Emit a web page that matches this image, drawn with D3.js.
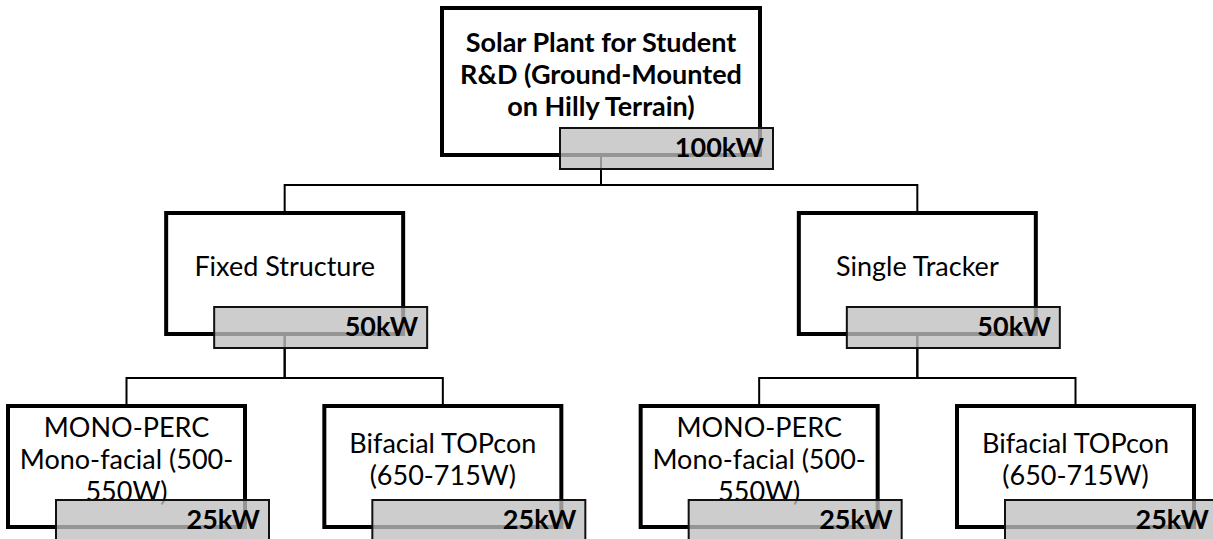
<!DOCTYPE html>
<html lang="en">
<head>
  <meta charset="utf-8" />
  <title>Solar Plant Breakdown</title>
  <script src="https://cdn.jsdelivr.net/npm/d3@7"></script>
  <style>
    body { margin: 0; background: white; }
    text { font-family: Lato, "Noto Sans", sans-serif; fill: #000; }
  </style>
</head>
<body>
<script>

// node data
var nodeIds = ["root", "fixed", "tracker", "fixMono", "fixBifa", "trkMono", "trkBifa"];
var parentIds = [null, "root", "root", "fixed", "fixed", "tracker", "tracker"];
var nodeLines = [
  ["Solar Plant for Student", "R&D (Ground-Mounted", "on Hilly Terrain)"],
  ["Fixed Structure"],
  ["Single Tracker"],
  ["MONO-PERC", "Mono-facial (500-", "550W)"],
  ["Bifacial TOPcon", "(650-715W)"],
  ["MONO-PERC", "Mono-facial (500-", "550W)"],
  ["Bifacial TOPcon", "(650-715W)"]
];
var capacityKW = [100, 50, 50, 25, 25, 25, 25];

var w = 1213;
var h = 539;

// sizes per depth
var boxW = [318, 237, 237];
var boxH = [147, 121, 121];
var tagW = 213, tagH = 41;
var tagOut = [13, 24, 24];   // how far the tag sticks out right of the box
var busGap = 28;
var fs = 27, lh = 32;

var table = nodeIds.map(function(id, i) {
  return {id: id, parent: parentIds[i], lines: nodeLines[i], kw: capacityKW[i]};
});
var root = d3.stratify()
             .id(function(d) { return d.id; })
             .parentId(function(d) { return d.parent; })(table);

d3.tree().nodeSize([1, 1]).separation(function() { return 1; })(root);

var leafX = d3.extent(root.leaves(), function(d) { return d.x; });
var xScale = d3.scaleLinear()
               .domain(leafX)
               .range([126.5, 1075.5]);
var topScale = d3.scaleOrdinal()
                 .domain([0, 1, 2])
                 .range([8, 213, 406]);

var svg = d3.select("body")
            .append("svg")
            .attr("width", w)
            .attr("height", h);

// connectors
svg.append("g")
   .selectAll("path")
   .data(root.links())
   .enter()
   .append("path")
   .attr("fill", "none")
   .attr("stroke", "#000")
   .attr("stroke-width", 2)
   .attr("d", function(l) {
     var px = xScale(l.source.x), cx = xScale(l.target.x);
     var py = topScale(l.source.depth) + boxH[l.source.depth];
     var cy = topScale(l.target.depth);
     var by = cy - busGap;
     return "M" + px + "," + py + "V" + by + "H" + cx + "V" + cy;
   });

var nodes = svg.append("g")
               .selectAll("g")
               .data(root.descendants())
               .enter()
               .append("g");

nodes.append("rect")
     .attr("x", function(d) { return xScale(d.x) - boxW[d.depth] / 2; })
     .attr("y", function(d) { return topScale(d.depth); })
     .attr("width", function(d) { return boxW[d.depth]; })
     .attr("height", function(d) { return boxH[d.depth]; })
     .attr("fill", "white")
     .attr("stroke", "#000")
     .attr("stroke-width", 4);

nodes.each(function(d) {
  var g = d3.select(this);
  var n = d.data.lines.length;
  var mid = topScale(d.depth) + boxH[d.depth] / 2 - 7;
  g.selectAll("text.name")
   .data(d.data.lines)
   .enter()
   .append("text")
   .attr("class", "name")
   .attr("x", xScale(d.x))
   .attr("y", function(t, i) { return mid + (i - (n - 1) / 2) * lh + fs * 0.35; })
   .attr("text-anchor", "middle")
   .attr("font-size", fs)
   .attr("font-weight", d.depth === 0 ? "bold" : "normal")
   .text(function(t) { return t; });
});

// capacity tags, drawn last and see-through
nodes.append("rect")
     .attr("x", function(d) { return xScale(d.x) + boxW[d.depth] / 2 + tagOut[d.depth] - tagW; })
     .attr("y", function(d) { return topScale(d.depth) + boxH[d.depth] - 27; })
     .attr("width", tagW)
     .attr("height", tagH)
     .attr("fill", "#bfbfbf")
     .attr("fill-opacity", 0.78)
     .attr("stroke", "#111")
     .attr("stroke-width", 2);

nodes.append("text")
     .attr("x", function(d) { return xScale(d.x) + boxW[d.depth] / 2 + tagOut[d.depth] - 9; })
     .attr("y", function(d) { return topScale(d.depth) + boxH[d.depth] - 27 + 29; })
     .attr("text-anchor", "end")
     .attr("font-size", fs)
     .attr("font-weight", "bold")
     .text(function(d) { return d.data.kw + "kW"; });

</script>
</body>
</html>
